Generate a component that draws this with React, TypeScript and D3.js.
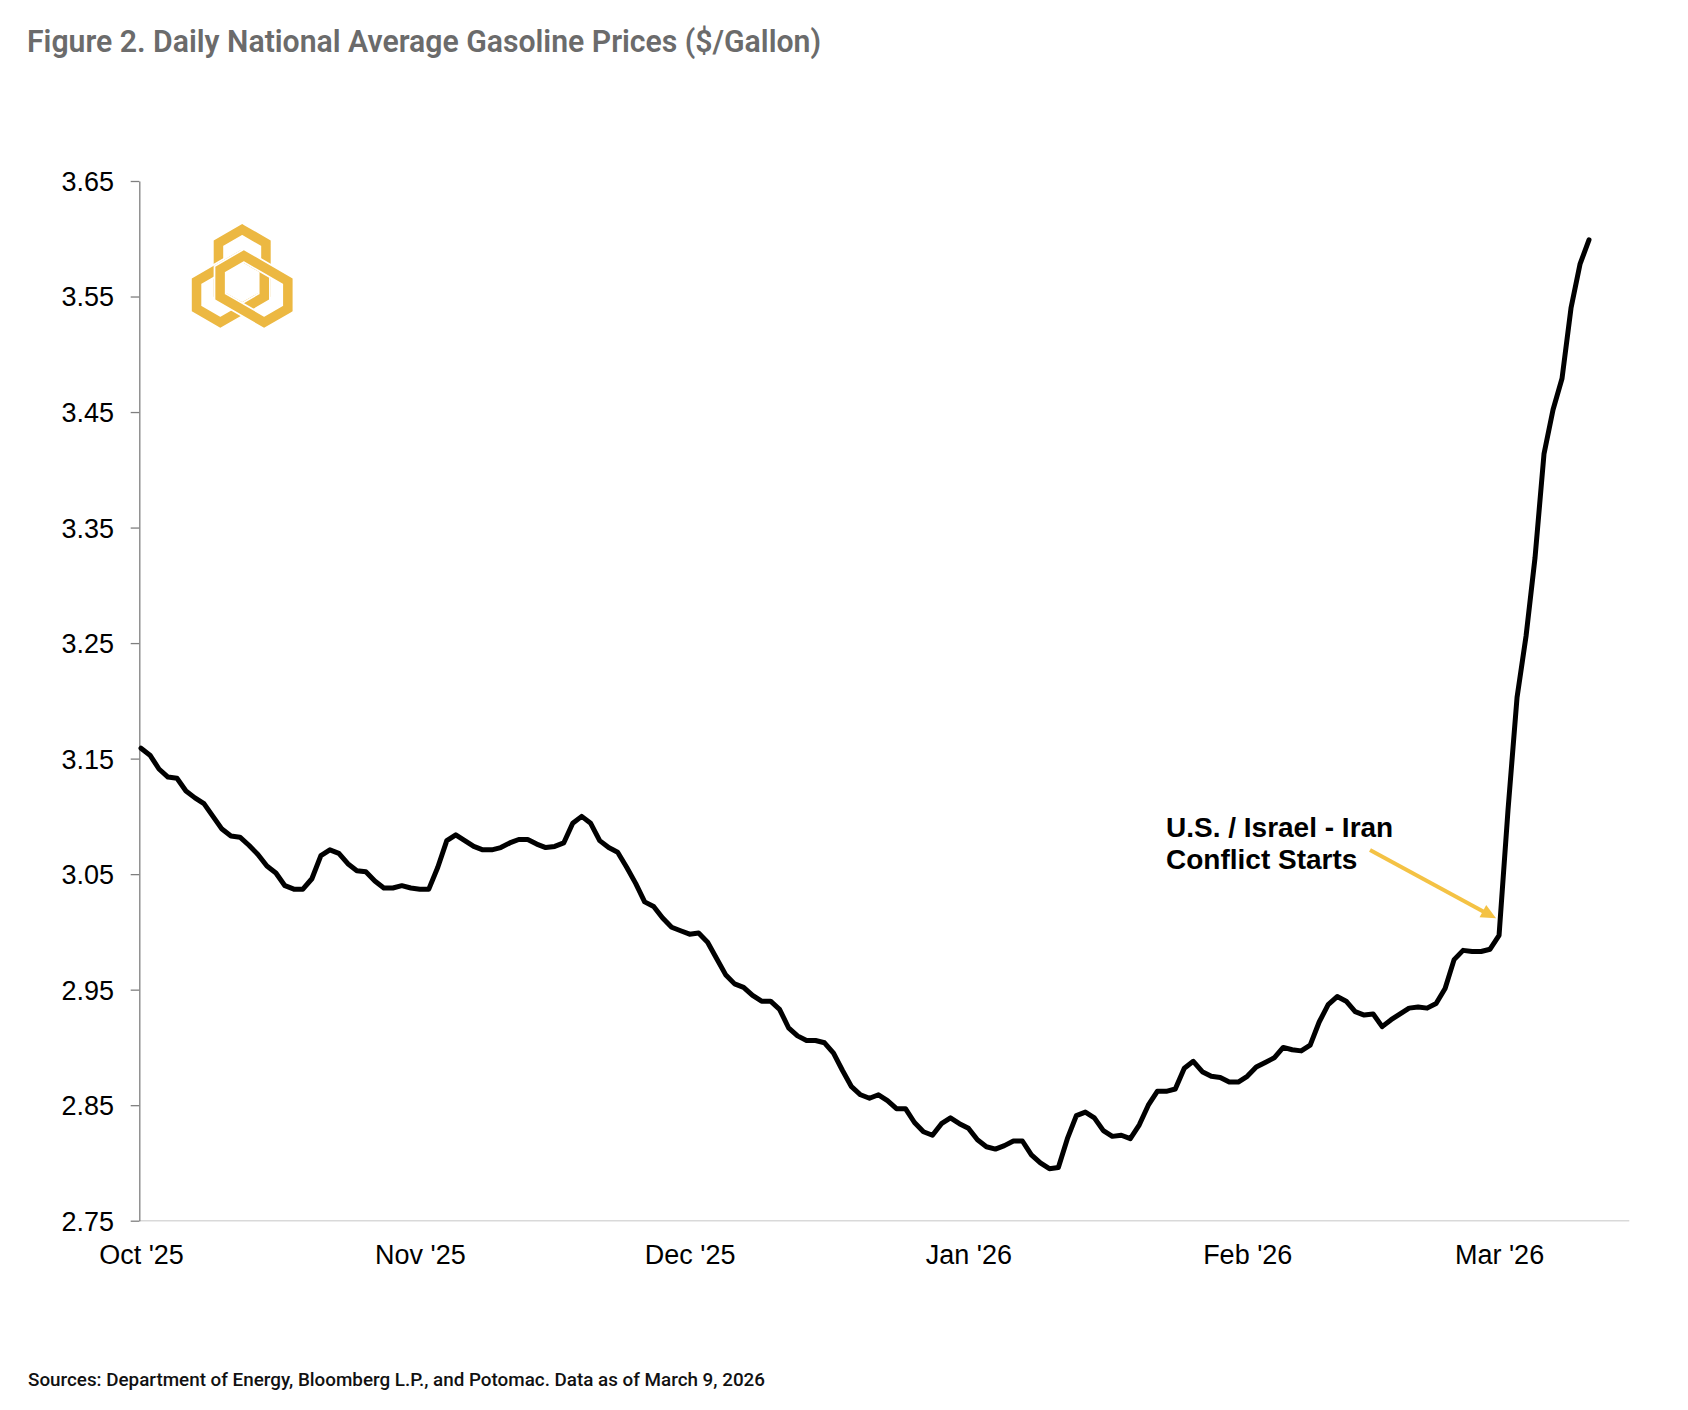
import React, { useEffect, useRef } from "react";
import * as d3 from "d3";

// Daily national average retail gasoline price ($/gal), one value per day from Oct 1, 2025
const startDate = new Date(2025, 9, 1);
const prices: number[] = [
  3.159, 3.153, 3.141, 3.134, 3.133, 3.122, 3.116, 3.111, 3.1, 3.089,
  3.083, 3.082, 3.075, 3.067, 3.057, 3.051, 3.04, 3.037, 3.037, 3.046,
  3.066, 3.071, 3.068, 3.059, 3.053, 3.052, 3.044, 3.038, 3.038, 3.04,
  3.038, 3.037, 3.037, 3.056, 3.079, 3.084, 3.079, 3.074, 3.071, 3.071,
  3.073, 3.077, 3.08, 3.08, 3.076, 3.073, 3.074, 3.077, 3.094, 3.1,
  3.094, 3.079, 3.073, 3.069, 3.056, 3.042, 3.026, 3.022, 3.012, 3.004,
  3.001, 2.998, 2.999, 2.991, 2.977, 2.963, 2.955, 2.952, 2.945, 2.94,
  2.94, 2.933, 2.917, 2.91, 2.906, 2.906, 2.904, 2.895, 2.88, 2.866,
  2.859, 2.856, 2.859, 2.854, 2.847, 2.847, 2.835, 2.827, 2.824, 2.834,
  2.839, 2.834, 2.83, 2.82, 2.814, 2.812, 2.815, 2.819, 2.819, 2.807,
  2.8, 2.795, 2.796, 2.821, 2.841, 2.844, 2.839, 2.828, 2.823, 2.824,
  2.821, 2.833, 2.85, 2.862, 2.862, 2.864, 2.882, 2.888, 2.879, 2.875,
  2.874, 2.87, 2.87, 2.875, 2.883, 2.887, 2.891, 2.9, 2.898, 2.897,
  2.902, 2.922, 2.937, 2.944, 2.94, 2.931, 2.928, 2.929, 2.918, 2.924,
  2.929, 2.934, 2.935, 2.934, 2.938, 2.951, 2.976, 2.984, 2.983, 2.983,
  2.985, 2.997, 3.106, 3.203, 3.256, 3.324, 3.414, 3.452, 3.479, 3.54,
  3.578, 3.599,
];

const yTicks = [2.75, 2.85, 2.95, 3.05, 3.15, 3.25, 3.35, 3.45, 3.55, 3.65];
const monthTicks = [
  new Date(2025, 9, 1),
  new Date(2025, 10, 1),
  new Date(2025, 11, 1),
  new Date(2026, 0, 1),
  new Date(2026, 1, 1),
  new Date(2026, 2, 1),
];
const monthLabels = ["Oct '25", "Nov '25", "Dec '25", "Jan '26", "Feb '26", "Mar '26"];

// index of the last pre-conflict observation (arrow target)
const conflictIndex = 151;
const annotationLines = ["U.S. / Israel - Iran", "Conflict Starts"];

const titleText = "Figure 2. Daily National Average Gasoline Prices ($/Gallon)";
const sourceText =
  "Sources: Department of Energy, Bloomberg L.P., and Potomac. Data as of March 9, 2026";

const WIDTH = 1688;
const HEIGHT = 1410;
const axisFont = "'Liberation Sans', Arial, Helvetica, sans-serif";

const GasPriceChart: React.FC = () => {
  const svgRef = useRef<SVGSVGElement>(null);

  useEffect(() => {
    if (!svgRef.current) return;
    const svg = d3.select(svgRef.current);
    svg.selectAll("*").remove();

    // plot frame
    const plotLeft = 139.3;
    const plotRight = 1629.3;
    const plotTop = 181;
    const plotBottom = 1220.7;

    const dates = prices.map((_, i) => d3.timeDay.offset(startDate, i));

    const x = d3
      .scaleTime()
      .domain([dates[0], dates[dates.length - 1]])
      .range([141, 1589]);

    const y = d3.scaleLinear().domain([2.75, 3.65]).range([plotBottom, plotTop]);

    svg.append("rect").attr("width", WIDTH).attr("height", HEIGHT).attr("fill", "#fff");

    // title
    svg
      .append("text")
      .attr("x", 27)
      .attr("y", 52)
      .attr("textLength", 794)
      .attr("lengthAdjust", "spacingAndGlyphs")
      .style("font-family", "Roboto, 'Noto Sans', sans-serif")
      .style("font-weight", 600)
      .style("font-size", "32px")
      .style("fill", "#6b6b6b")
      .text(titleText);

    // x baseline (light)
    svg
      .append("line")
      .attr("x1", plotLeft)
      .attr("x2", plotRight)
      .attr("y1", plotBottom)
      .attr("y2", plotBottom)
      .attr("stroke", "#d9d9d9")
      .attr("stroke-width", 1.6);

    // x labels
    const xAxis = svg
      .append("g")
      .attr("transform", `translate(0, ${plotBottom})`)
      .call(
        d3
          .axisBottom(x)
          .tickValues(monthTicks)
          .tickSize(0)
          .tickPadding(24)
          .tickFormat((_, i) => monthLabels[i])
      );
    xAxis.select(".domain").remove();
    xAxis
      .selectAll("text")
      .style("font-family", axisFont)
      .style("font-size", "27px")
      .style("fill", "#000");

    // y axis
    const yAxis = svg
      .append("g")
      .attr("transform", `translate(${plotLeft}, 0)`)
      .call(
        d3
          .axisLeft(y)
          .tickValues(yTicks)
          .tickFormat(d3.format(".2f"))
          .tickSize(8.6)
          .tickSizeOuter(0)
          .tickPadding(16.7)
      );
    yAxis.select(".domain").attr("stroke", "#7f7f7f").attr("stroke-width", 1.3);
    yAxis.selectAll(".tick line").attr("stroke", "#7f7f7f").attr("stroke-width", 1.3);
    yAxis
      .selectAll("text")
      .attr("dy", "0.35em")
      .style("font-family", axisFont)
      .style("font-size", "27px")
      .style("fill", "#000");

    // logo: three interlocked hexagon rings
    const logoColor = "#ecb842";
    const cx = 242.2;
    const cy = 282.2;
    const ring: [number, number][] = [
      [0, -52.7],
      [23.75, -39],
      [23.75, 11.8],
      [0, 25.5],
      [-23.75, 11.8],
      [-23.75, -39],
    ];
    const rotate = (p: [number, number], deg: number): [number, number] => {
      const a = (deg * Math.PI) / 180;
      return [
        cx + p[0] * Math.cos(a) - p[1] * Math.sin(a),
        cy + p[0] * Math.sin(a) + p[1] * Math.cos(a),
      ];
    };
    const ringLine = d3.line().curve(d3.curveLinearClosed);
    const logo = svg.append("g");
    [0, 240, 120].forEach((deg) => {
      const pts = ring.map((p) => rotate(p, deg));
      logo
        .append("path")
        .attr("d", ringLine(pts))
        .attr("fill", "none")
        .attr("stroke", "#fff")
        .attr("stroke-width", 13)
        .attr("stroke-linejoin", "miter");
      logo
        .append("path")
        .attr("d", ringLine(pts))
        .attr("fill", "none")
        .attr("stroke", logoColor)
        .attr("stroke-width", 9.5)
        .attr("stroke-linejoin", "miter");
    });

    // price line
    const line = d3
      .line<number>()
      .x((_, i) => x(dates[i]))
      .y((d) => y(d));

    svg
      .append("path")
      .datum(prices)
      .attr("d", line)
      .attr("fill", "none")
      .attr("stroke", "#000")
      .attr("stroke-width", 5)
      .attr("stroke-linejoin", "round")
      .attr("stroke-linecap", "round");

    // annotation
    const note = svg
      .append("text")
      .style("font-family", axisFont)
      .style("font-weight", 700)
      .style("font-size", "28px")
      .style("fill", "#000");
    annotationLines.forEach((t, i) => {
      note
        .append("tspan")
        .attr("x", 1166)
        .attr("y", 837 + i * 32)
        .text(t);
    });

    const arrowColor = "#f4c244";
    const tipX = x(dates[conflictIndex]) - 3;
    const tipY = y(prices[conflictIndex]) - 17;
    const startX = 1370;
    const startY = 850;
    const len = Math.hypot(tipX - startX, tipY - startY);
    const ux = (tipX - startX) / len;
    const uy = (tipY - startY) / len;
    const headLen = 15;
    const headHalf = 7;
    const bx = tipX - ux * headLen;
    const by = tipY - uy * headLen;

    svg
      .append("line")
      .attr("x1", startX)
      .attr("y1", startY)
      .attr("x2", bx + ux * 2)
      .attr("y2", by + uy * 2)
      .attr("stroke", arrowColor)
      .attr("stroke-width", 4);

    svg
      .append("polygon")
      .attr(
        "points",
        [
          [tipX, tipY],
          [bx - uy * headHalf, by + ux * headHalf],
          [bx + uy * headHalf, by - ux * headHalf],
        ]
          .map((p) => p.join(","))
          .join(" ")
      )
      .attr("fill", arrowColor);

    // source note
    svg
      .append("text")
      .attr("x", 28)
      .attr("y", 1386)
      .attr("textLength", 737)
      .attr("lengthAdjust", "spacingAndGlyphs")
      .style("font-family", "Roboto, 'Noto Sans', sans-serif")
      .style("font-weight", 500)
      .style("font-size", "18px")
      .style("fill", "#111")
      .text(sourceText);
  }, []);

  return (
    <svg
      ref={svgRef}
      width={WIDTH}
      height={HEIGHT}
      style={{ display: "block" }}
    />
  );
};

export default function App() {
  return (
    <>
      <style>{`body { margin: 0; }`}</style>
      <GasPriceChart />
    </>
  );
}
